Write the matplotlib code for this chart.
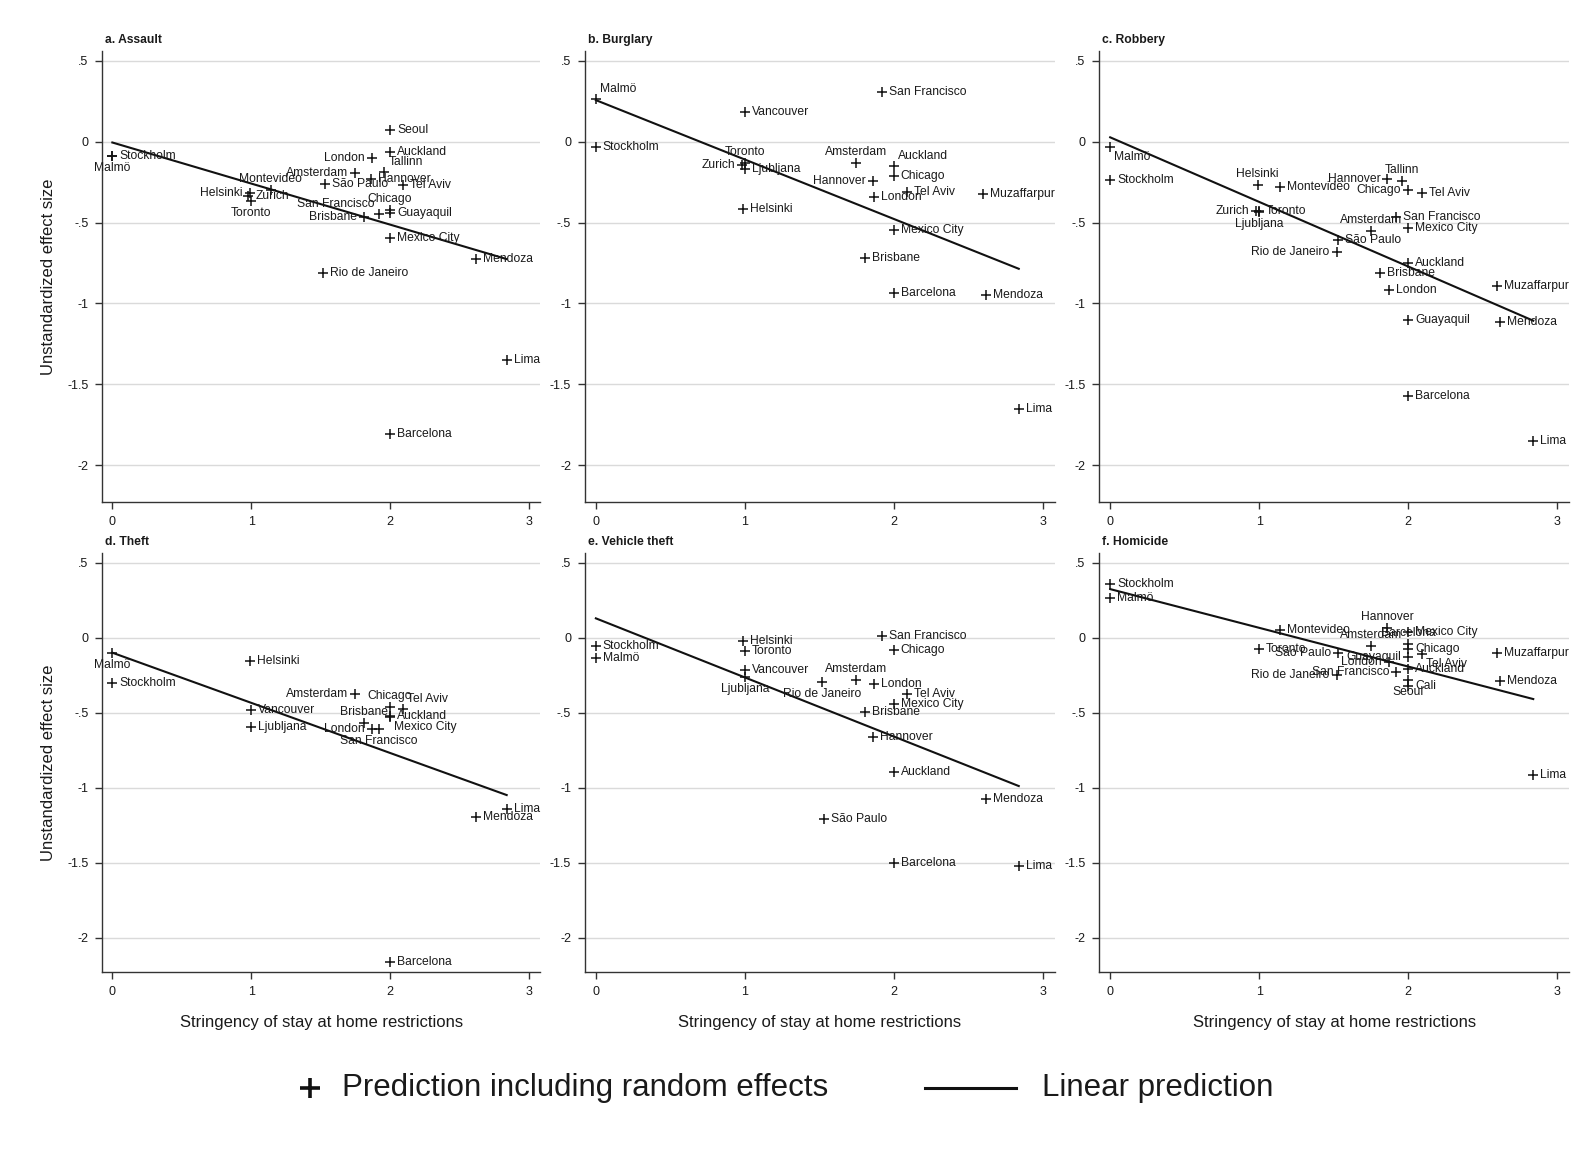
import matplotlib
matplotlib.use("Agg")
import matplotlib.pyplot as plt
from matplotlib.lines import Line2D

plt.rcParams['font.family'] = ['Liberation Sans', 'DejaVu Sans']

# ---------------- data ----------------
# stringency of stay-at-home restrictions per city (x axis)
stringency = {
    "Stockholm": 0.0, "Malmö": 0.0, "Helsinki": 0.99, "Zurich": 0.98,
    "Toronto": 1.0, "Ljubljana": 1.0, "Vancouver": 1.0, "Montevideo": 1.14,
    "Rio de Janeiro": 1.52, "São Paulo": 1.53, "Amsterdam": 1.75,
    "Brisbane": 1.81, "Hannover": 1.86, "London": 1.87, "San Francisco": 1.92,
    "Tallinn": 1.96, "Seoul": 2.0, "Auckland": 2.0, "Chicago": 2.0,
    "Guayaquil": 2.0, "Mexico City": 2.0, "Barcelona": 2.0, "Cali": 2.0,
    "Tel Aviv": 2.09, "Muzaffarpur": 2.6, "Mendoza": 2.62, "Lima": 2.84,
}

assault_cities = ["Seoul", "Auckland", "London", "Stockholm", "Malmö", "Amsterdam",
                  "Tallinn", "Hannover", "São Paulo", "Tel Aviv", "Montevideo",
                  "Helsinki", "Zurich", "Toronto", "San Francisco", "Brisbane",
                  "Chicago", "Guayaquil", "Mexico City", "Mendoza", "Rio de Janeiro",
                  "Lima", "Barcelona"]
assault_effects = [0.07, -0.066, -0.099, -0.086, -0.09, -0.195,
                   -0.185, -0.23, -0.261, -0.267, -0.30,
                   -0.32, -0.335, -0.364, -0.449, -0.463,
                   -0.422, -0.442, -0.597, -0.726, -0.815,
                   -1.352, -1.806]
assault_line = [-0.005, -0.726]

burglary_cities = ["Malmö", "Stockholm", "San Francisco", "Vancouver", "Toronto",
                   "Zurich", "Ljubljana", "Helsinki", "Amsterdam", "Auckland",
                   "Chicago", "Hannover", "Tel Aviv", "London", "Muzaffarpur",
                   "Mexico City", "Brisbane", "Barcelona", "Mendoza", "Lima"]
burglary_effects = [0.267, -0.035, 0.305, 0.181, -0.134,
                    -0.144, -0.171, -0.416, -0.134, -0.150,
                    -0.212, -0.243, -0.313, -0.340, -0.323,
                    -0.545, -0.722, -0.936, -0.95, -1.656]
burglary_line = [0.257, -0.786]

robbery_cities = ["Malmö", "Stockholm", "Helsinki", "Montevideo", "Hannover",
                  "Tallinn", "Chicago", "Tel Aviv", "Zurich", "Toronto",
                  "Ljubljana", "Amsterdam", "San Francisco", "Mexico City",
                  "São Paulo", "Rio de Janeiro", "Auckland", "Brisbane", "London",
                  "Muzaffarpur", "Guayaquil", "Mendoza", "Barcelona", "Lima"]
robbery_effects = [-0.031, -0.237, -0.267, -0.282, -0.228,
                   -0.243, -0.298, -0.319, -0.428, -0.428,
                   -0.432, -0.551, -0.467, -0.535,
                   -0.607, -0.685, -0.751, -0.813, -0.915,
                   -0.891, -1.105, -1.115, -1.574, -1.852]
robbery_line = [0.027, -1.107]

theft_cities = ["Malmö", "Stockholm", "Helsinki", "Vancouver", "Ljubljana",
                "Amsterdam", "Chicago", "Tel Aviv", "Brisbane", "Auckland",
                "Mexico City", "London", "San Francisco", "Lima", "Mendoza",
                "Barcelona"]
theft_effects = [-0.10, -0.30, -0.153, -0.482, -0.593,
                 -0.378, -0.46, -0.476, -0.571, -0.52,
                 -0.53, -0.609, -0.609, -1.142, -1.193,
                 -2.164]
theft_line = [-0.10, -1.049]

vehicle_cities = ["Stockholm", "Malmö", "Helsinki", "Toronto", "Vancouver",
                  "Ljubljana", "Rio de Janeiro", "Amsterdam", "London",
                  "San Francisco", "Chicago", "Tel Aviv", "Mexico City",
                  "Brisbane", "Hannover", "Auckland", "Mendoza", "São Paulo",
                  "Barcelona", "Lima"]
vehicle_effects = [-0.053, -0.138, -0.02, -0.087, -0.216,
                   -0.264, -0.293, -0.282, -0.307,
                   0.011, -0.082, -0.376, -0.444,
                   -0.498, -0.66, -0.898, -1.076, -1.209,
                   -1.502, -1.522]
vehicle_line = [0.129, -0.989]

homicide_cities = ["Stockholm", "Malmö", "Montevideo", "Toronto", "São Paulo",
                   "Guayaquil", "Hannover", "Amsterdam", "Barcelona",
                   "Mexico City", "Chicago", "Tel Aviv", "London", "Auckland",
                   "Cali", "Seoul", "San Francisco", "Rio de Janeiro",
                   "Muzaffarpur", "Mendoza", "Lima"]
homicide_effects = [0.356, 0.267, 0.051, -0.076, -0.10,
                    -0.127, 0.067, -0.053, -0.04,
                    0.04, -0.075, -0.111, -0.16, -0.209,
                    -0.32, -0.282, -0.227, -0.249,
                    -0.10, -0.287, -0.915]
homicide_line = [0.324, -0.409]

panel_titles = ["a. Assault", "b. Burglary", "c. Robbery",
                "d. Theft", "e. Vehicle theft", "f. Homicide"]
ytick_vals = [0.5, 0, -0.5, -1, -1.5, -2]
ytick_labels = [".5", "0", "-.5", "-1", "-1.5", "-2"]
xtick_vals = [0, 1, 2, 3]
xtick_labels = ["0", "1", "2", "3"]

# ---------------- label placement (clock positions, default 3) ----------------
label_pos = [
    {"Malmö": 6, "London": 9, "Amsterdam": 9, "Tallinn": 1, "Montevideo": 12,
     "Helsinki": 9, "Toronto": 6, "San Francisco": 11, "Brisbane": 9, "Chicago": 12},
    {"Malmö": 1, "Toronto": 12, "Zurich": 9, "Amsterdam": 12, "Auckland": 1,
     "Hannover": 9},
    {"Malmö": 4, "Helsinki": 12, "Hannover": 9, "Tallinn": 12, "Chicago": 9,
     "Zurich": 9, "Ljubljana": 6, "Amsterdam": 12, "Rio de Janeiro": 9},
    {"Malmö": 6, "Amsterdam": 9, "Chicago": 12, "Tel Aviv": 1, "Brisbane": 12,
     "Mexico City": 4, "London": 9, "San Francisco": 6},
    {"Ljubljana": 6, "Rio de Janeiro": 6, "Amsterdam": 12},
    {"São Paulo": 9, "Guayaquil": 9, "Hannover": 12, "Amsterdam": 12,
     "Barcelona": 12, "Tel Aviv": 4, "London": 9, "Seoul": 6,
     "San Francisco": 9, "Rio de Janeiro": 9},
]
OFF = {3: (7, 0, "left"), 9: (-7, 0, "right"), 12: (0, 11, "center"),
       6: (0, -12, "center"), 1: (4, 10, "left"), 11: (-4, 10, "right"),
       4: (4, -10, "left"), 7: (-4, -10, "right")}

panels = [
    (assault_cities, assault_effects, assault_line),
    (burglary_cities, burglary_effects, burglary_line),
    (robbery_cities, robbery_effects, robbery_line),
    (theft_cities, theft_effects, theft_line),
    (vehicle_cities, vehicle_effects, vehicle_line),
    (homicide_cities, homicide_effects, homicide_line),
]

# ---------------- figure ----------------
W, H = 1585, 1160
fig = plt.figure(figsize=(W / 100, H / 100), dpi=100)
fig.patch.set_facecolor("white")

col_lr = [(102.2, 540.0), (585.0, 1054.5), (1099.3, 1569.0)]
row_tb = [(50.8, 502.3), (553.4, 972.2)]

TXT = "#1a1a1a"
for i, (cities, effects, line_y) in enumerate(panels):
    r, c = divmod(i, 3)
    l, rr = col_lr[c]
    t, b = row_tb[r]
    ax = fig.add_axes([l / W, 1 - b / H, (rr - l) / W, (b - t) / H])
    ax.set_xlim(-0.073, 3.08)
    ax.set_ylim(-2.23, 0.562)
    for sp in ["top", "right"]:
        ax.spines[sp].set_visible(False)
    for sp in ["left", "bottom"]:
        ax.spines[sp].set_color("#333333")
        ax.spines[sp].set_linewidth(1.0)
    ax.set_yticks(ytick_vals)
    ax.set_yticklabels(ytick_labels)
    ax.set_xticks(xtick_vals)
    ax.set_xticklabels(xtick_labels)
    ax.tick_params(axis="both", labelsize=9, colors="#333333", labelcolor=TXT,
                   length=5, width=1.0, pad=5)
    ax.grid(axis="y", color="#dadada", linewidth=1.0)
    ax.set_axisbelow(True)

    xs = [stringency[cn] for cn in cities]
    ax.plot(xs, effects, linestyle="none", marker="+", color="#111111",
            markersize=7.5, markeredgewidth=1.1, zorder=3)
    ax.plot([min(xs), max(xs)], line_y, color="#111111", linewidth=1.5, zorder=2)

    for cn, xv, yv in zip(cities, xs, effects):
        pos = label_pos[i].get(cn, 3)
        dx, dy, ha = OFF[pos]
        ax.annotate(cn, (xv, yv), xytext=(dx, dy), textcoords="offset pixels",
                    ha=ha, va="center", fontsize=8.7, color=TXT, zorder=4,
                    annotation_clip=False)

    fig.text((l + 3) / W, 1 - (t - 11) / H, panel_titles[i], fontsize=8.7,
             fontweight="bold", color=TXT, ha="left", va="center")

    if c == 0:
        ax.set_ylabel("Unstandardized effect size", fontsize=12, color=TXT,
                      labelpad=8)
    if r == 1:
        ax.set_xlabel("Stringency of stay at home restrictions", fontsize=12,
                      color=TXT, labelpad=12)

# ---------------- legend ----------------
ly = 1 - 1088 / H
fig.add_artist(Line2D([310 / W], [ly], marker="+", color="#111111",
                      markersize=14, markeredgewidth=2.6, linestyle="none",
                      transform=fig.transFigure))
fig.text(342 / W, ly, "Prediction including random effects", fontsize=22.5,
         color=TXT, ha="left", va="center")
fig.add_artist(Line2D([925 / W, 1016 / W], [ly, ly], color="#111111",
                      linewidth=2.2, transform=fig.transFigure))
fig.text(1042 / W, ly, "Linear prediction", fontsize=22.5, color=TXT,
         ha="left", va="center")

fig.savefig("out.png", dpi=100, facecolor="white")
